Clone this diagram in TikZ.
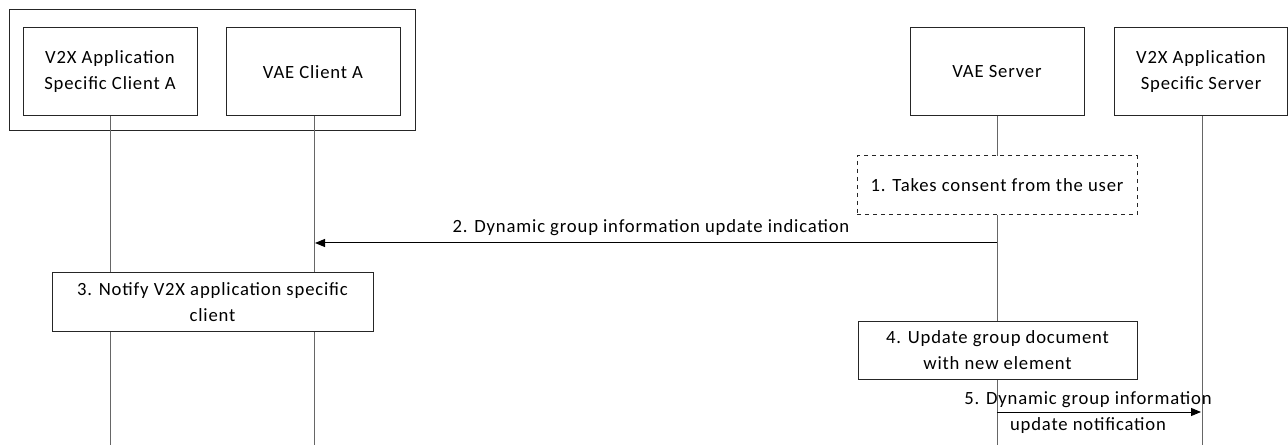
\documentclass[tikz,border=0pt]{standalone}
\usepackage{fontspec}
\setmainfont{Carlito}[LetterSpace=4.5]
\usepackage{tikz}
\usetikzlibrary{arrows.meta, positioning}

\begin{document}
\begin{tikzpicture}[
  x=0.75pt, y=-0.75pt,
  every node/.style={font=\fontsize{14}{19.5}\selectfont},
  entity/.style={rectangle, draw=black!85, line width=0.75pt, minimum width=130.5pt, minimum height=66pt, inner sep=0pt, align=center},
  group/.style={rectangle, draw=black!85, line width=0.75pt, minimum width=305pt, minimum height=90.75pt, inner sep=0pt},
  action/.style={rectangle, draw=black!85, line width=0.75pt, fill=white, minimum height=43.5pt, inner sep=0pt, align=center},
  consent/.style={action, dashed},
  lifeline/.style={draw=black!60, line width=0.75pt},
  msg/.style={-{Triangle[length=7.5pt, width=6pt]}, line width=0.75pt, black},
  label/.style={align=center, inner sep=1pt}
]
\useasboundingbox (0,0) rectangle (1288,445);
\node[group] (ue) at (212.5,70.5) {};
\node[entity] (appclient) at (110,72) {V2X Application\\Specific Client A};
\node[entity] (vaeclient) at (313,72) {VAE Client A};
\node[entity] (vaeserver) at (997,72) {VAE Server};
\node[entity, minimum width=129.75pt] (appserver) at (1201,72) {V2X Application\\Specific Server};
\coordinate (appclientend) at (110,445);
\coordinate (vaeclientend) at (314,445);
\coordinate (vaeserverend) at (997,445);
\coordinate (appserverend) at (1202,445);
\draw[lifeline] (appclient.south) -- (appclientend);
\draw[lifeline] (vaeclient.south -| vaeclientend) -- (vaeclientend);
\draw[lifeline] (vaeserver.south) -- (vaeserverend);
\draw[lifeline] (appserver.south -| appserverend) -- (appserverend);
\node[consent, minimum width=210pt, minimum height=44.25pt] (step1) at (997,185.5) {1. Takes consent from the user};
\coordinate (m2from) at (997,243);
\coordinate (m2to) at (315,243);
\draw[msg] (m2from) -- (m2to);
\node[label] (m2label) at (651,228) {2. Dynamic group information update indication};
\node[action, minimum width=240.75pt] (step3) at (212.5,302) {3. Notify V2X application specific\\client};
\node[action, minimum width=209.25pt] (step4) at (997.5,350) {4. Update group document\\with new element};
\coordinate (m5from) at (997,412);
\coordinate (m5to) at (1201,412);
\draw[msg] (m5from) -- (m5to);
\node[label] (m5label) at (1088,413) {5. Dynamic group information\\update notification};
\end{tikzpicture}
\end{document}
